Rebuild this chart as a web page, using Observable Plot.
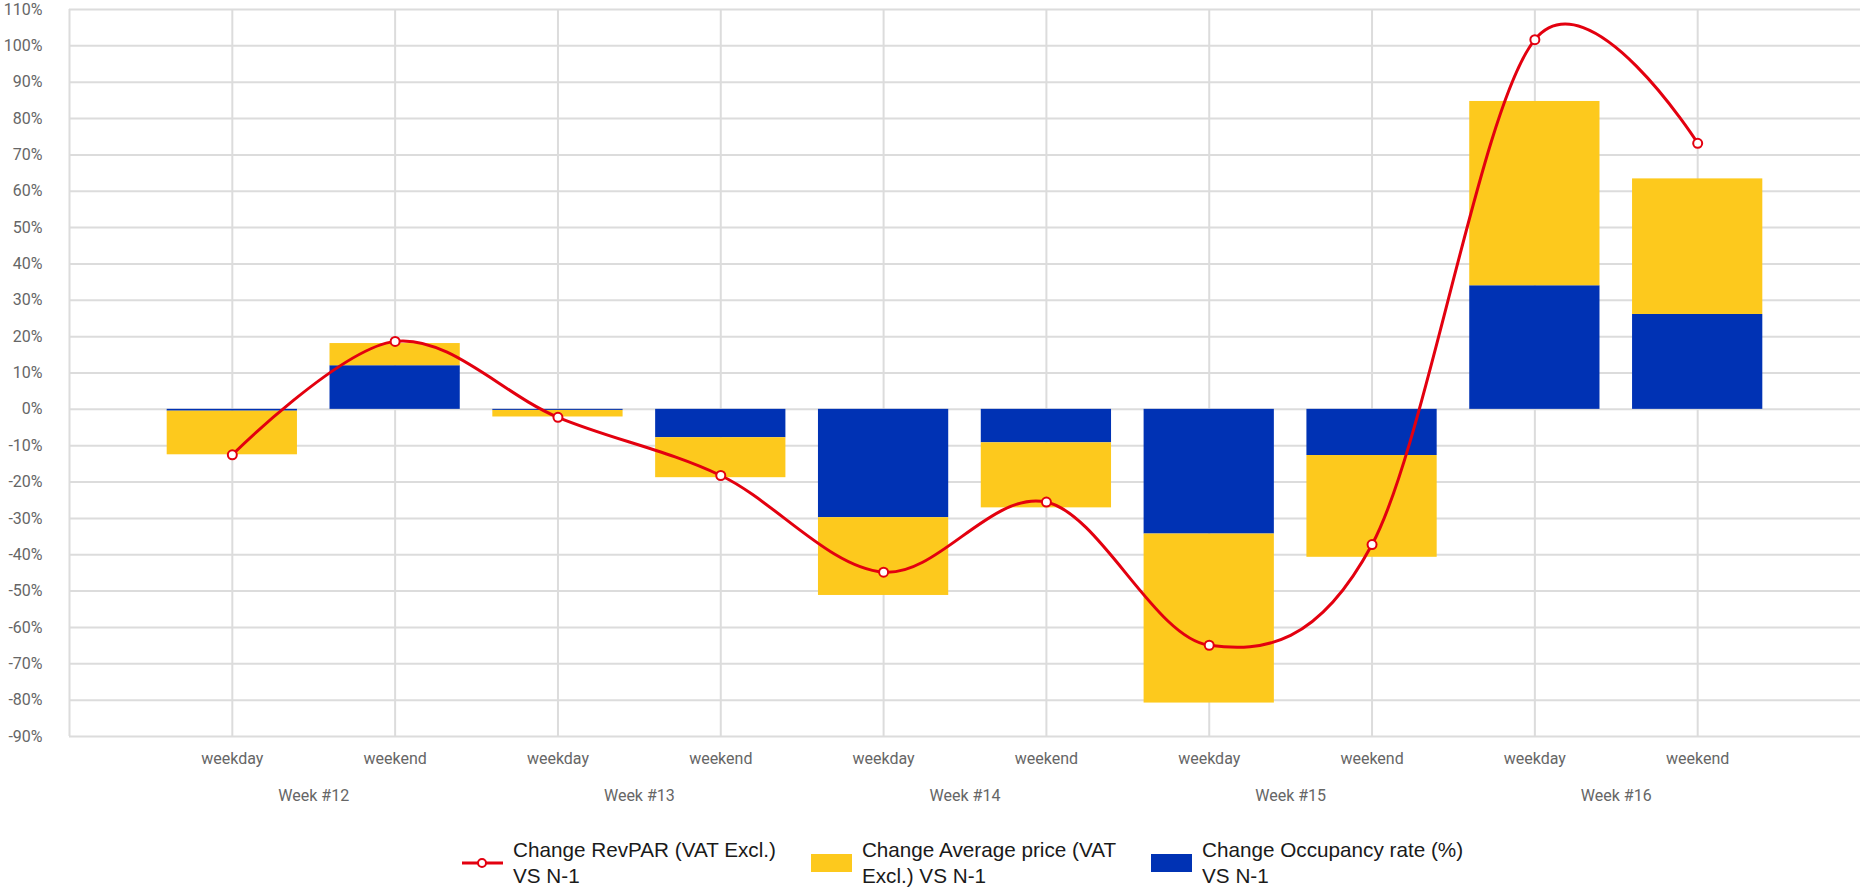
<!DOCTYPE html>
<html>
<head>
<meta charset="utf-8">
<script src="https://cdn.jsdelivr.net/npm/d3@7"></script>
<script src="https://cdn.jsdelivr.net/npm/@observablehq/plot@0.6"></script>
<style>
  html, body { margin: 0; padding: 0; background: #fff; }
  #chart svg { display: block; }
  .legend { display: flex; justify-content: flex-start; align-items: center; margin-top: 22px; padding-left: 462px;
    font-family: "Liberation Sans", Arial, sans-serif; font-size: 20.7px; line-height: 26px; color: #1a1a1a; }
  .item { display: flex; align-items: center; margin-right: 35px; }
  .sw { width: 41px; height: 18px; margin-right: 10px; }
  .ln { width: 41px; height: 18px; margin-right: 10px; }
</style>
</head>
<body>
<div id="chart"></div>
<div class="legend">
  <div class="item"><svg class="ln" viewBox="0 0 41 18"><line x1="0" y1="9" x2="41" y2="9" stroke="#e3000f" stroke-width="3"/><circle cx="20" cy="9" r="4" fill="#fff" stroke="#e3000f" stroke-width="2"/></svg><div>Change RevPAR (VAT Excl.)<br>VS N-1</div></div>
  <div class="item"><div class="sw" style="background:#fdc91d"></div><div>Change Average price (VAT<br>Excl.) VS N-1</div></div>
  <div class="item"><div class="sw" style="background:#0032b4"></div><div>Change Occupancy rate (%)<br>VS N-1</div></div>
</div>
<script>
const weeks = ["Week #12", "Week #13", "Week #14", "Week #15", "Week #16"];
const days = ["weekday", "weekend"];
const occupancy = [-0.5, 12.0, -0.3, -7.8, -29.8, -9.2, -34.3, -12.7, 34.0, 26.1];
const avgPrice = [-12.0, 6.1, -1.8, -11.0, -21.4, -17.9, -46.5, -28.0, 50.7, 37.3];
const revpar = [-12.5, 18.7, -2.2, -18.2, -44.8, -25.5, -64.9, -37.2, 101.7, 73.2];
const yTicks = [-90, -80, -70, -60, -50, -40, -30, -20, -10, 0, 10, 20, 30, 40, 50, 60, 70, 80, 90, 100, 110];

const rows = occupancy.map((o, i) => ({
  x: i + 1,
  day: days[i % 2],
  week: weeks[Math.floor(i / 2)],
  occ: o,
  price: avgPrice[i],
  revpar: revpar[i]
}));
const weekRows = weeks.map((w, j) => ({x: 2 * j + 1.5, week: w}));
const half = 0.4;
const grid = "#dcdcdc";
const tickFont = "Roboto, sans-serif";

const chart = Plot.plot({
  width: 1860,
  height: 815,
  marginLeft: 69,
  marginRight: 0,
  marginTop: 9,
  marginBottom: 79,
  style: {fontFamily: tickFont, fontSize: "16px", color: "#666", background: "#fff"},
  x: {domain: [0, 11], axis: null, label: null},
  y: {domain: [-90, 110], axis: null, label: null},
  marks: [
    Plot.ruleY(yTicks, {stroke: grid, strokeWidth: 2}),
    Plot.ruleX(rows, {x: "x", stroke: grid, strokeWidth: 2}),
    Plot.ruleX([0], {stroke: grid, strokeWidth: 2}),
    Plot.axisY(yTicks, {tickSize: 0, tickPadding: 27, tickFormat: d => d + "%", fontSize: 16, fill: "#666", label: null}),
    Plot.axisX(rows.map(r => r.x), {tickSize: 0, tickPadding: 16, tickFormat: d => rows[d - 1].day, fontSize: 16, fill: "#666", label: null}),
    Plot.axisX(weekRows.map(r => r.x), {tickSize: 0, tickPadding: 53, tickFormat: (d, i) => weekRows[i].week, fontSize: 16, fill: "#666", label: null}),
    Plot.rectY(rows, {x1: d => d.x - half, x2: d => d.x + half, y1: 0, y2: "occ", fill: "#0032b4"}),
    Plot.rectY(rows, {x1: d => d.x - half, x2: d => d.x + half, y1: "occ", y2: d => d.occ + d.price, fill: "#fdc91d"}),
    Plot.line(rows, {x: "x", y: "revpar", stroke: "#e3000f", strokeWidth: 3, curve: "cardinal", tension: 0}),
    Plot.dot(rows, {x: "x", y: "revpar", r: 4.5, fill: "#fff", stroke: "#e3000f", strokeWidth: 2})
  ]
});
document.getElementById("chart").appendChild(chart);
</script>
</body>
</html>
